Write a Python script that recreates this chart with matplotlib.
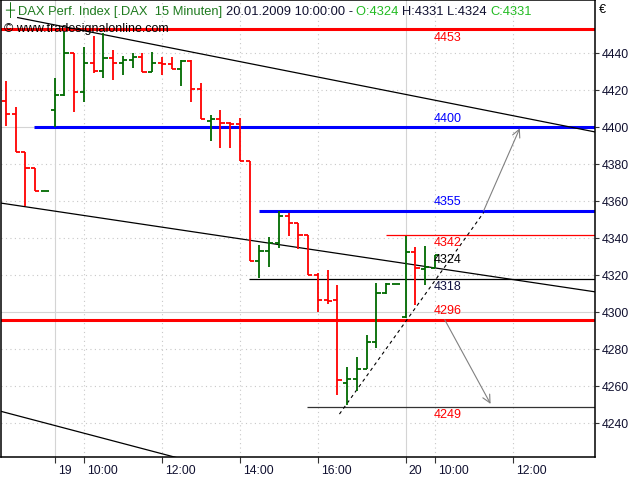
import numpy as np
import matplotlib
matplotlib.use("Agg")
import matplotlib.pyplot as plt
from matplotlib.transforms import ScaledTranslation

plt.rcParams['font.family'] = ['Liberation Sans', 'DejaVu Sans']

# bar index: 0 = 19.01.2009 10:00, one step = 15 minutes
bar_idx = np.arange(-8, 37)
opens = [4414, 4407, 4386.5, 4378, 4365.5,
         4409.5, 4417.5, 4440, 4419, 4434.5, 4430.5, 4437.5, 4434.5, 4436.5, 4438,
         4430, 4435, 4434, 4431.5, 4436, 4420.5, 4403.5, 4404.5, 4402.5, 4402,
         4382, 4327.5, 4333, 4337.5, 4352, 4348.5, 4342, 4320, 4306.5, 4306.5,
         4262, 4264, 4269.5, 4284, 4310.5, 4315.5,
         4297.5, 4332.5, 4323.5, 4324]
highs = [4425, 4411, 4386.5, 4378, 4365.5,
         4426.5, 4451.5, 4440, 4443.5, 4449.5, 4451, 4442, 4438.5, 4440, 4440,
         4440.5, 4438, 4438, 4436.5, 4436.5, 4424, 4406.5, 4409.5, 4403, 4405,
         4382, 4336.5, 4340.5, 4354.5, 4353.5, 4348.5, 4342, 4321, 4323, 4315,
         4270.5, 4276, 4287.5, 4316, 4316, 4315.5,
         4341, 4335.5, 4336, 4331]
lows = [4400.5, 4386.5, 4357.5, 4365.5, 4365.5,
        4400, 4417, 4408, 4413.5, 4429.5, 4426.5, 4425.5, 4428.5, 4432, 4430,
        4430, 4428.5, 4431.5, 4422.5, 4413.5, 4404.5, 4392.5, 4389, 4389, 4382,
        4327.5, 4318.5, 4324.5, 4335, 4341, 4334, 4320, 4300, 4304.5, 4255.5,
        4250, 4257.5, 4269.5, 4280.5, 4310, 4315.5,
        4297, 4304, 4315, 4324]
closes = [4407, 4386.5, 4378, 4365.5, 4365.5,
          4417.5, 4440, 4419, 4434.5, 4430.5, 4437.5, 4434.5, 4436.5, 4438, 4430,
          4435, 4434, 4431.5, 4436, 4420.5, 4404.5, 4404.5, 4402.5, 4402, 4382,
          4327.5, 4333, 4337.5, 4352, 4348.5, 4342, 4320, 4306.5, 4306, 4263.5,
          4264, 4269.5, 4284, 4310.5, 4315.5, 4315.5,
          4332.5, 4324, 4324.5, 4331]

tick_pos = [-3, 0, 8, 16, 24, 33, 36, 44]
tick_labels = ['19', '10:00', '12:00', '14:00', '16:00', '20', '10:00', '12:00']
day_starts = [-3, 33]
y_ticks = np.arange(4240, 4441, 20)

# horizontal levels drawn in the chart
level_vals = [4453, 4400, 4355, 4342, 4318, 4296, 4249]
level_from = [-8.6, -5.1, 17.9, 31.0, 16.9, -8.6, 22.9]
level_colors = ['#ff0000', '#0000ff', '#0000ff', '#ff0000', '#000000', '#ff0000', '#333333']
level_lw = [2.2, 2.2, 2.2, 0.9, 0.9, 2.2, 0.9]

# level labels (value, colour, above/below the line)
label_vals = [4453, 4400, 4355, 4342, 4324, 4318, 4296, 4249]
label_colors = ['#ff0000', '#0000ff', '#0000ff', '#ff0000', '#000000', '#101040', '#ff0000', '#ff0000']
label_side = [-1, 1, 1, -1, 1, -1, 1, -1]

# trend lines (bar index, price)
trend_lines = [
    ((-6.8, 52.5), (4459.3, 4397.4)),
    ((-8.6, 52.5), (4359.1, 4311.0)),
    ((-8.6, 12.0), (4246.6, 4218.0)),
]
dash_line = ((26.2, 41.0), (4245, 4354))
arrows = [
    ((41.0, 4355), (44.7, 4399.5)),
    ((37.0, 4296), (41.7, 4250.5)),
]

RED = '#ff0000'
GREEN = '#006a00'

fig = plt.figure(figsize=(6.4, 4.8), dpi=100)
ax = fig.add_axes([1 / 640, 23 / 480, 594 / 640, 457 / 480])
ax.set_xlim(-8.51, 52.41)
ax.set_ylim(4221.8, 4468.8)

# grid
for yv in y_ticks:
    if yv % 100 == 0:
        ax.axhline(yv, color='#d4d4d4', lw=0.8, zorder=0)
    else:
        ax.axhline(yv, color='#c8c8c8', lw=0.8, ls=(0, (1, 3)), zorder=0)
for xv in tick_pos:
    if xv in day_starts:
        ax.axvline(xv, color='#d4d4d4', lw=0.8, zorder=0)
    else:
        ax.axvline(xv, color='#c8c8c8', lw=0.8, ls=(0, (1, 3)), zorder=0)

# OHLC bars
tw = 0.42
for i, o, h, l, c in zip(bar_idx, opens, highs, lows, closes):
    col = GREEN if c >= o else RED
    if h > l:
        ax.plot([i, i], [l, h], color=col, lw=1.3, zorder=3, solid_capstyle='butt')
    ax.plot([i - tw, i], [o, o], color=col, lw=1.3, zorder=3, solid_capstyle='butt')
    ax.plot([i, i + tw], [c, c], color=col, lw=1.3, zorder=3, solid_capstyle='butt')

# levels
for v, x0, col, lw in zip(level_vals, level_from, level_colors, level_lw):
    ax.plot([x0, 52.5], [v, v], color=col, lw=lw, zorder=2, solid_capstyle='butt')

for (xs, ys) in trend_lines:
    ax.plot(xs, ys, color='black', lw=0.9, zorder=2)
ax.plot(dash_line[0], dash_line[1], color='black', lw=0.8, ls=(0, (3, 3)), zorder=2)

for (p0, p1) in arrows:
    ax.annotate('', xy=p1, xytext=p0,
                arrowprops=dict(arrowstyle='->', color='#808080', lw=0.8,
                                mutation_scale=14, shrinkA=0, shrinkB=0))

for v, col, s in zip(label_vals, label_colors, label_side):
    ax.annotate(str(v), xy=(35.9, v), xytext=(0, 6 * s), textcoords='offset points',
                ha='left', va='center', color=col, fontsize=9, zorder=5)

# axes styling
for sp in ['left', 'right', 'bottom', 'top']:
    ax.spines[sp].set_color('black')
    ax.spines[sp].set_linewidth(1.1)
ax.yaxis.tick_right()
ax.set_yticks(y_ticks)
ax.set_yticklabels([str(v) for v in y_ticks])
ax.tick_params(axis='y', direction='out', length=3, width=0.8, pad=2,
               labelsize=8.8, colors='#333333', labelcolor='#101030')
ax.set_xticks(tick_pos)
ax.set_xticklabels(tick_labels)
ax.tick_params(axis='x', direction='out', length=4, width=0.8, pad=2,
               labelsize=8.8, colors='#333333', labelcolor='#101030')
off = ScaledTranslation(3 / 100, 0, fig.dpi_scale_trans)
for lbl in ax.get_xticklabels():
    lbl.set_ha('left')
    lbl.set_transform(lbl.get_transform() + off)

# title line, several colours
pieces = [('\u253c ', GREEN), ('DAX Perf. Index [.DAX  15 Minuten] ', '#1e7a1e'),
          ('20.01.2009 10:00:00 - ', '#101030'), ('O:4324 ', '#22bb22'),
          ('H:4331 L:4324 ', '#101030'), ('C:4331', '#22bb22')]
prev = fig.text(5 / 640, 1 - 18 / 480, pieces[0][0], color=pieces[0][1],
                fontsize=9.3, ha='left', va='bottom')
for txt, col in pieces[1:]:
    prev = ax.annotate(txt, xy=(1, 0), xycoords=prev, ha='left', va='bottom',
                       color=col, fontsize=9.3)
fig.text(4 / 640, 1 - 29 / 480, '\u00a9 www.tradesignalonline.com', color='black',
         fontsize=9, ha='left', va='center')
fig.text(599 / 640, 1 - 10 / 480, '\u20ac', color='black', fontsize=9, ha='left', va='center')

fig.savefig('out.png', dpi=100)
